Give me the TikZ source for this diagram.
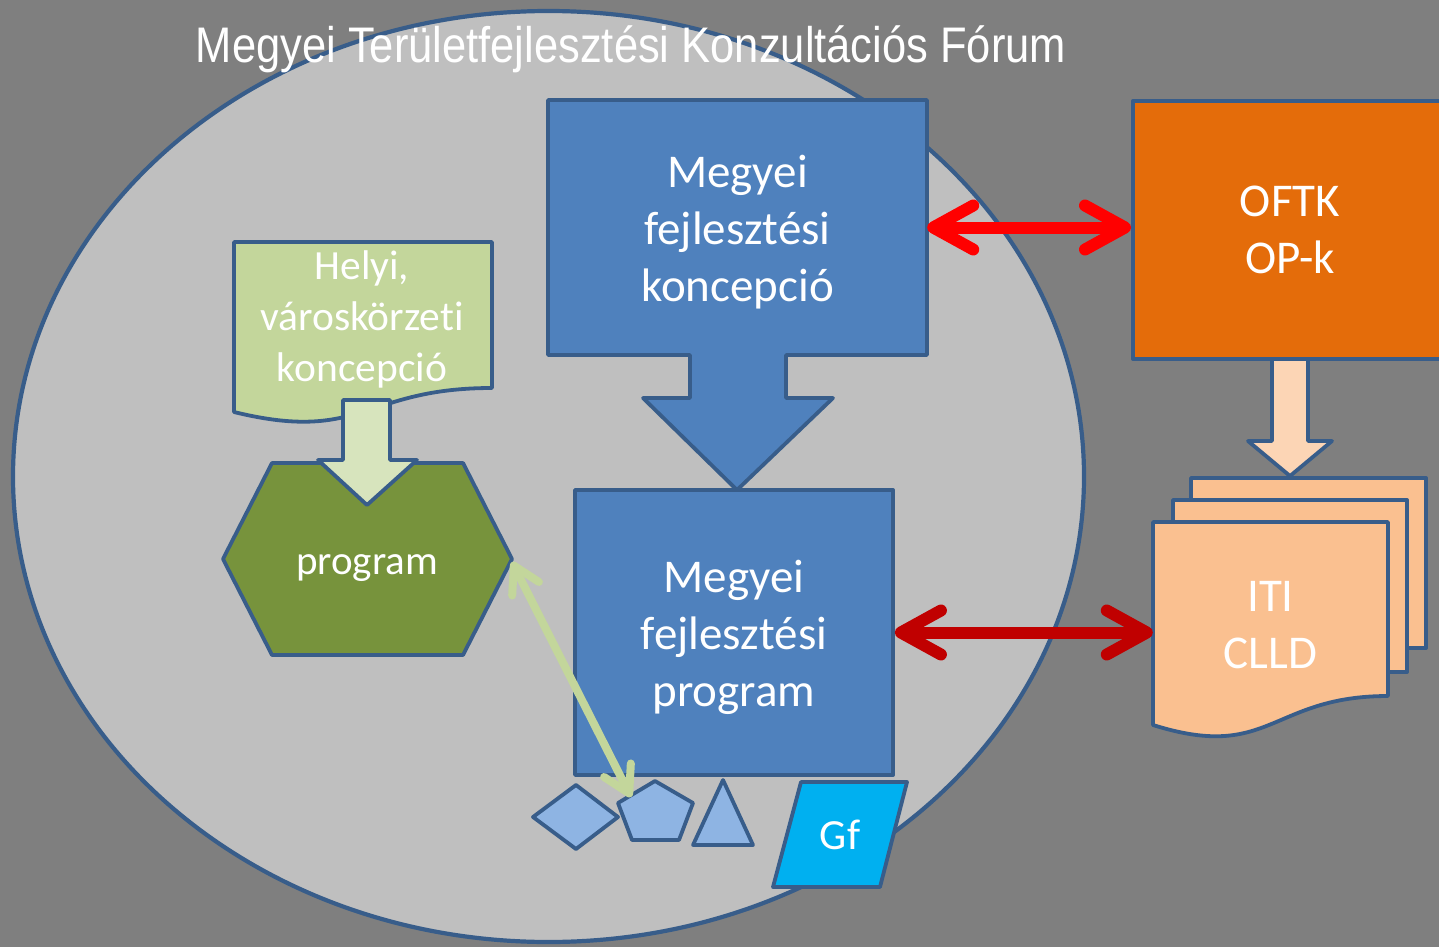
\documentclass[tikz,border=0pt]{standalone}
\usepackage{graphicx}
\usepackage{fontspec}
\setmainfont{Carlito}[Ligatures=NoCommon]
\newfontfamily\titlefont{Liberation Sans}
\usetikzlibrary{arrows.meta}
\definecolor{bg}{HTML}{7F7F7F}
\definecolor{ellfill}{HTML}{BFBFBF}
\definecolor{bd}{HTML}{385D8A}
\definecolor{mblue}{HTML}{4F81BD}
\definecolor{morange}{HTML}{E46C0A}
\definecolor{peachlight}{HTML}{FCD5B5}
\definecolor{peach}{HTML}{FAC090}
\definecolor{lgreen}{HTML}{C3D69B}
\definecolor{llgreen}{HTML}{D7E4BD}
\definecolor{olive}{HTML}{77933C}
\definecolor{sblue}{HTML}{8EB4E3}
\definecolor{cyanbox}{HTML}{00B0F0}
\definecolor{dred}{HTML}{C00000}
\tikzset{
  shp/.style={draw=bd, line width=3.8pt, line join=round},
  txt/.style={text=white, align=center},
  bigtxt/.style={txt, font=\fontsize{47}{57}\selectfont},
  midtxt/.style={txt, font=\fontsize{41.5}{51}\selectfont},
  redarr/.style={line width=12pt, {Straight Barb[round,length=40pt,width=44pt]}-{Straight Barb[round,length=40pt,width=44pt]}},
  grarr/.style={draw=lgreen, line width=8pt, {Straight Barb[round,length=26pt,width=30pt]}-{Straight Barb[round,length=26pt,width=30pt]}}
}
\begin{document}
\begin{tikzpicture}[x=1pt,y=-1pt]
\useasboundingbox (0,0) rectangle (1439,947);
\fill[bg] (0,0) rectangle (1439,947);
% forum ellipse
\path[shp, line width=4.2pt, fill=ellfill] (548.5,476.5) ellipse [x radius=535.5, y radius=465.5];
\node[anchor=base, text=white, font=\titlefont\fontsize{50}{60}\selectfont, inner sep=0pt] (title) at (631,63)
  {\scalebox{0.87}[1]{Megyei Területfejlesztési Konzultációs Fórum}};
% top blue box with down arrow
\path[shp, fill=mblue] (548,100) -- (927,100) -- (927,355) -- (786,355) -- (786,398) -- (833,398)
  -- (737,490) -- (643,398) -- (690,398) -- (690,355) -- (548,355) -- cycle;
\node[bigtxt, minimum width=379pt, minimum height=255pt, inner sep=0pt] (mfk) at (737.5,227.5)
  {\raisebox{-5pt}[\height][\depth]{\parbox{379pt}{\centering Megyei\\fejlesztési\\koncepció}}};
% bottom blue box
\node[shp, fill=mblue, bigtxt, minimum width=318pt, minimum height=285pt, inner sep=0pt] (mfp) at (734,632.5)
  {\raisebox{-5pt}[\height][\depth]{\parbox{318pt}{\centering Megyei\\fejlesztési\\program}}};
% orange arrow and box
\path[shp, fill=peachlight] (1272,350) -- (1272,441) -- (1248,441) -- (1290,476) -- (1332,441)
  -- (1308,441) -- (1308,350) -- cycle;
\node[shp, fill=morange, bigtxt, minimum width=314pt, minimum height=258pt, inner sep=0pt, anchor=north west] (oftk) at (1131,99)
  {OFTK\\OP-k};
% multidocument
\path[shp, fill=peach] (1191,478) rectangle (1426,648);
\path[shp, fill=peach] (1173,500) rectangle (1407,672);
\path[shp, fill=peach] (1153,522) -- (1388,522) -- (1388,696)
  .. controls (1270.5,696) and (1270.5,762) .. (1153,725) -- cycle;
\node[bigtxt, minimum width=235pt, minimum height=203pt, inner sep=0pt] (iti) at (1270.5,625.5) {ITI\\CLLD};
% Helyi document
\path[shp, fill=lgreen] (234,242) -- (492,242) -- (492,388)
  .. controls (363,388) and (363,443.6) .. (234,412) -- cycle;
\node[midtxt, inner sep=0pt] (helyi) at (362,319) {Helyi,\\városkörzeti\\koncepció};
% hexagon program
\path[shp, fill=olive] (272,463) -- (463,463) -- (512,559) -- (463,655) -- (272,655) -- (223,559) -- cycle;
\node[txt, font=\fontsize{41}{50}\selectfont, inner sep=0pt] (prog) at (367,568) {program};
% arrow Helyi -> program
\path[shp, fill=llgreen] (343,400) -- (343,460) -- (318,460) -- (367,505) -- (417,460) -- (390,460) -- (390,400) -- cycle;
% small shapes
\path[shp, fill=sblue] (533,817) -- (576,785) -- (618,817) -- (576,849) -- cycle;
\path[shp, fill=sblue] (655,781) -- (693,803) -- (679,840) -- (632,840) -- (618,803) -- cycle;
\path[shp, fill=sblue] (723,780) -- (753,845) -- (693,845) -- cycle;
% Gf
\path[shp, fill=cyanbox] (801,782) -- (907,782) -- (880,887) -- (773,887) -- cycle;
\node[txt, font=\fontsize{43}{50}\selectfont, inner sep=0pt] (gf) at (840,835) {Gf};
% connectors
\coordinate (hexR) at (512,562);
\coordinate (pentL) at (631,797);
\draw[grarr] (hexR) -- (pentL);
\draw[redarr, draw=red] (mfk.east) -- (oftk.west |- mfk.east);
\draw[redarr, draw=dred] (mfp.east) -- (iti.west |- mfp.east);
\end{tikzpicture}
\end{document}
